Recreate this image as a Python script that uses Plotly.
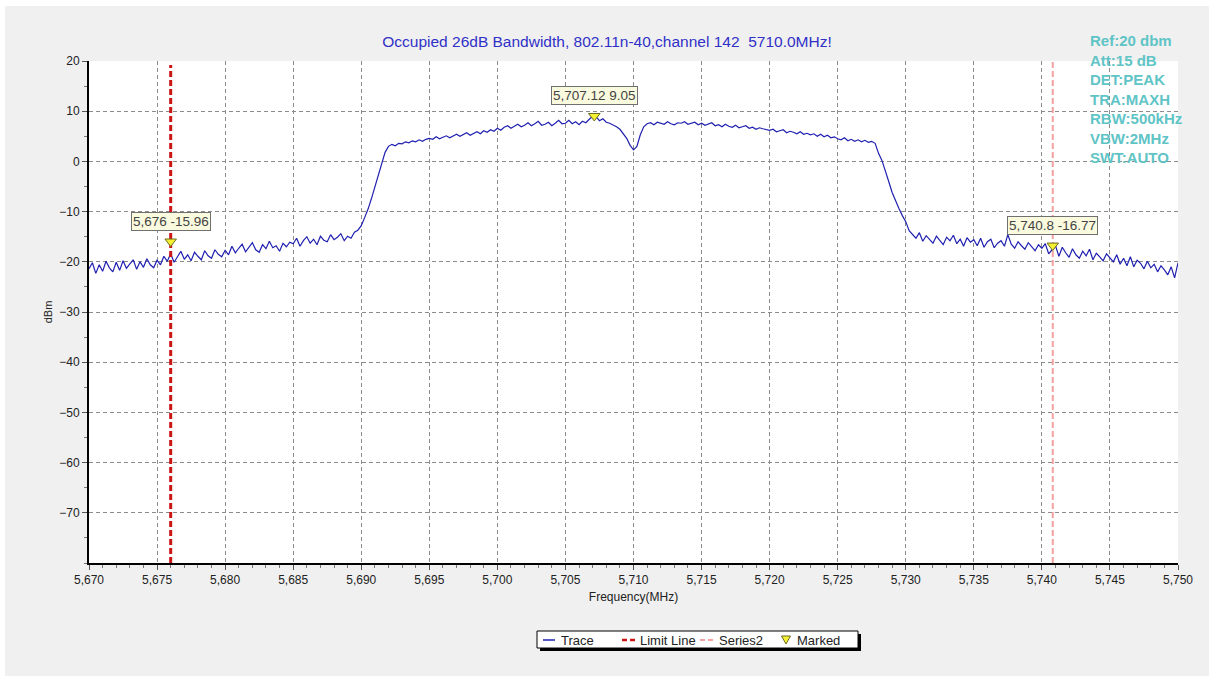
import numpy as np
import plotly.graph_objects as go

# ---------------- data ----------------
FREQ_START = 5670.0   # MHz, first sweep point
FREQ_STEP = 0.25      # MHz between sweep points

# max-hold trace level (dBm), one value per sweep point, 5 MHz per row
trace_dbm = [
    -21.4, -20.2, -22.3, -20.6, -21.9, -19.9, -21.2, -22.0, -20.1, -21.7, -19.8, -21.3, -20.4, -19.6, -21.5, -20.0, -21.1, -19.4, -20.6, -21.2,
    -19.7, -20.6, -18.9, -19.9, -18.4, -20.1, -19.0, -17.9, -19.5, -18.6, -19.8, -18.1, -18.9, -19.6, -17.8, -18.8, -19.3, -17.6, -18.5, -19.0,
    -17.7, -18.6, -16.9, -18.2, -17.3, -16.5, -18.0, -17.1, -16.2, -17.6, -18.1, -16.6, -17.4, -15.9, -17.2, -16.8, -17.9, -16.3, -17.0, -16.1,
    -16.4, -15.3, -16.9, -15.8, -15.0, -16.3, -15.5, -16.6, -14.9, -15.7, -16.0, -14.6, -15.6, -15.1, -14.4, -15.8, -14.9, -15.3, -14.1, -13.7,
    -12.8, -11.2, -9.5, -7.4, -5.0, -2.6, -0.4, 1.8, 3.0, 3.4, 3.1, 3.6, 3.5, 3.9, 3.7, 4.1, 3.9, 4.3, 4.0, 4.4,
    4.6, 4.4, 4.9, 4.5, 4.8, 5.1, 4.7, 5.0, 5.4, 5.0, 5.3, 5.7, 5.2, 5.6, 5.9, 5.5, 6.1, 5.8, 6.3, 6.0,
    6.6, 6.2, 6.8, 7.1, 6.6, 7.0, 7.4, 6.9, 7.2, 7.7, 7.1, 7.5, 8.0, 7.2, 7.4, 7.8, 7.1, 7.6, 8.2, 7.5,
    7.6, 8.2, 7.5, 7.9, 7.3, 8.0, 7.7, 8.4, 9.0, 8.9, 8.1, 8.5, 7.8, 7.6, 7.3, 6.9, 6.4, 5.6, 4.6, 3.2,
    2.3, 3.0, 5.3, 6.9, 7.5, 7.7, 7.3, 7.8, 7.6, 7.4, 7.9, 7.5, 7.3, 7.7, 7.6, 7.9, 7.4, 7.6, 7.8, 7.3,
    7.6, 7.2, 7.4, 7.7, 7.1, 7.3, 6.9, 7.4, 7.0, 6.8, 7.2, 6.7, 6.9, 7.1, 6.6, 6.8, 6.4, 6.7, 6.5, 6.3,
    6.2, 6.4, 5.9, 6.1, 6.3, 5.7, 6.0, 5.8, 5.5, 5.9, 5.4, 5.6, 5.3, 5.5, 5.0, 5.4, 4.9, 5.2, 4.7, 4.9,
    4.5, 4.3, 4.7, 4.1, 4.4, 4.0, 4.3, 3.9, 4.2, 3.8, 4.0, 3.6, 1.6, 0.2, -1.7, -4.0, -6.2, -8.0, -9.4, -10.8,
    -12.0, -13.8, -14.6, -15.3, -14.2, -15.9, -14.8, -15.5, -16.3, -14.9, -15.7, -16.6, -15.1, -15.8, -14.7, -16.4, -15.5, -16.9, -15.2, -16.1,
    -15.6, -16.8, -15.3, -17.1, -16.0, -15.5, -17.2, -16.3, -15.8, -16.9, -14.6, -16.5, -17.3, -16.0, -16.8, -17.5, -16.2, -17.0, -17.8, -16.6,
    -17.3, -16.4, -18.4, -17.6, -16.8, -18.9, -17.1, -18.2, -19.1, -17.4, -18.6, -19.3, -17.9, -18.8, -17.5, -19.6, -18.3, -19.0, -19.8, -18.4,
    -19.2, -20.0, -18.6, -20.5, -19.3, -20.8, -19.0, -21.0, -19.7, -20.3, -21.4, -19.9, -21.2, -20.5, -22.0, -20.8, -21.6, -22.6, -21.0, -23.2,
    -20.2,
]
freq_mhz = FREQ_START + FREQ_STEP * np.arange(len(trace_dbm))

# marker readouts
marker_freq = [5676, 5707.12, 5740.8]
marker_dbm = [-15.96, 9.05, -16.77]

# vertical lines: limit line and the second series
limit_freq = 5676
limit_top = 19.2
series2_freq = 5740.8
series2_top = 20

x_range = [5670, 5750]
y_range = [-80, 20]
x_ticks = list(range(5670, 5751, 5))
y_ticks = list(range(-70, 21, 10))

title_text = "Occupied 26dB Bandwidth, 802.11n-40,channel 142  5710.0MHz!"
settings_lines = ["Ref:20 dbm", "Att:15 dB", "DET:PEAK", "TRA:MAXH",
                  "RBW:500kHz", "VBW:2MHz", "SWT:AUTO"]
legend_names = ["Trace", "Limit Line", "Series2", "Marked"]

# ---------------- styling / layout ----------------
FIG_W, FIG_H = 1214, 679
ML, MR, MT, MB = 89, 36, 61, 116
PW, PH = FIG_W - ML - MR, FIG_H - MT - MB
FONT = "Arial, Liberation Sans, sans-serif"

TRACE_COLOR = "#2020b0"
LIMIT_COLOR = "#cc1515"
SERIES2_COLOR = "#f2a0a0"
MARK_FILL = "#f5f032"
MARK_EDGE = "#6a6a20"


def px(xp):
    """pixel column -> paper x"""
    return (xp - ML) / PW


def py(yp):
    """pixel row -> paper y"""
    return (MT + PH - yp) / PH


fig = go.Figure()

fig.add_trace(go.Scatter(
    x=freq_mhz, y=trace_dbm, mode="lines", name=legend_names[0],
    line=dict(color=TRACE_COLOR, width=1.2), showlegend=False,
))
fig.add_trace(go.Scatter(
    x=[limit_freq, limit_freq], y=[y_range[0], limit_top], mode="lines",
    name=legend_names[1], showlegend=False,
    line=dict(color=LIMIT_COLOR, width=3, dash="6px,3px"),
))
fig.add_trace(go.Scatter(
    x=[series2_freq, series2_freq], y=[y_range[0], series2_top], mode="lines",
    name=legend_names[2], showlegend=False,
    line=dict(color=SERIES2_COLOR, width=2, dash="6px,3px"),
))
fig.add_trace(go.Scatter(
    x=marker_freq, y=marker_dbm, mode="markers", name=legend_names[3],
    showlegend=False,
    marker=dict(symbol="triangle-down", size=10, color=MARK_FILL,
                line=dict(color=MARK_EDGE, width=1)),
))

annotations = []
for f, v in zip(marker_freq, marker_dbm):
    annotations.append(dict(
        x=f, y=v, xref="x", yref="y", yshift=20, showarrow=False,
        text=f"{format(f, ',g')} {format(v, 'g')}",
        font=dict(family=FONT, size=13.5, color="#444444"),
        bgcolor="#fafade", bordercolor="#707070", borderwidth=1, borderpad=1,
    ))

# instrument settings block
annotations.append(dict(
    x=px(1088), y=py(30), xref="paper", yref="paper", xanchor="left",
    yanchor="top", align="left", showarrow=False,
    text="<br>".join(f"<b>{s}</b>" for s in settings_lines),
    font=dict(family=FONT, size=15, color="#5fc4c6"),
))

# legend box
shapes = []
LEG_X0, LEG_X1, LEG_Y0, LEG_Y1, LEG_YC = 537, 858, 631, 648, 640
shapes.append(dict(type="rect", xref="paper", yref="paper",
                   x0=px(LEG_X0 + 3), x1=px(LEG_X1 + 3),
                   y0=py(LEG_Y1 + 3), y1=py(LEG_Y0 + 3),
                   fillcolor="black", line=dict(width=0)))
shapes.append(dict(type="rect", xref="paper", yref="paper",
                   x0=px(LEG_X0), x1=px(LEG_X1), y0=py(LEG_Y1), y1=py(LEG_Y0),
                   fillcolor="white", line=dict(color="black", width=1)))
shapes.append(dict(type="line", xref="paper", yref="paper",
                   x0=px(543), x1=px(555), y0=py(LEG_YC), y1=py(LEG_YC),
                   line=dict(color=TRACE_COLOR, width=1.5)))
shapes.append(dict(type="line", xref="paper", yref="paper",
                   x0=px(622), x1=px(636), y0=py(LEG_YC), y1=py(LEG_YC),
                   line=dict(color=LIMIT_COLOR, width=2.5, dash="5px,3px")))
shapes.append(dict(type="line", xref="paper", yref="paper",
                   x0=px(700), x1=px(714), y0=py(LEG_YC), y1=py(LEG_YC),
                   line=dict(color=SERIES2_COLOR, width=2, dash="5px,3px")))
tri = [(781.5, 636), (790.5, 636), (786, 644)]
shapes.append(dict(type="path", xref="paper", yref="paper",
                   path="M {} {} L {} {} L {} {} Z".format(
                       px(tri[0][0]), py(tri[0][1]), px(tri[1][0]), py(tri[1][1]),
                       px(tri[2][0]), py(tri[2][1])),
                   fillcolor=MARK_FILL, line=dict(color=MARK_EDGE, width=1)))
for name, xl in zip(legend_names, [559, 638, 717, 795]):
    annotations.append(dict(
        x=px(xl), y=py(LEG_YC), xref="paper", yref="paper", xanchor="left",
        yanchor="middle", showarrow=False, text=name,
        font=dict(family=FONT, size=13, color="#222222"),
    ))

# thin white frame around the grey panel
for x0, x1, y0, y1 in [(0, 5, 0, FIG_H), (1209, FIG_W, 0, FIG_H),
                       (0, FIG_W, 0, 6), (0, FIG_W, 676, FIG_H)]:
    shapes.append(dict(type="rect", xref="paper", yref="paper",
                       x0=px(x0), x1=px(x1), y0=py(y1), y1=py(y0),
                       fillcolor="white", line=dict(width=0)))

axis_common = dict(
    showline=True, linecolor="black", linewidth=2, mirror=False,
    showgrid=True, gridcolor="#8c8c8c", griddash="4px,3px", gridwidth=1,
    zeroline=False, ticks="outside", ticklen=5, tickcolor="#555555",
    tickfont=dict(family=FONT, size=12, color="#222222"),
)

fig.update_layout(
    width=FIG_W, height=FIG_H,
    margin=dict(l=ML, r=MR, t=MT, b=MB),
    paper_bgcolor="#f0f0f0", plot_bgcolor="white",
    showlegend=False,
    title=dict(text=title_text, x=0.5, xref="container", xanchor="center",
               y=1 - 42 / FIG_H, yanchor="middle", yref="container",
               font=dict(family=FONT, size=15.5, color="#3030c8")),
    xaxis=dict(range=x_range, tickvals=x_ticks, tickformat=",",
               title=dict(text="Frequency(MHz)", standoff=6,
                          font=dict(family=FONT, size=12, color="#222222")),
               minor=dict(dtick=1, ticks="outside", ticklen=3,
                          tickcolor="#777777", showgrid=False),
               **axis_common),
    yaxis=dict(range=y_range, tickvals=y_ticks,
               title=dict(text="dBm", standoff=4,
                          font=dict(family=FONT, size=11, color="#222222")),
               minor=dict(dtick=5, ticks="outside", ticklen=3,
                          tickcolor="#777777", showgrid=False),
               **axis_common),
    annotations=annotations,
    shapes=shapes,
)

fig.write_html("out.html")
